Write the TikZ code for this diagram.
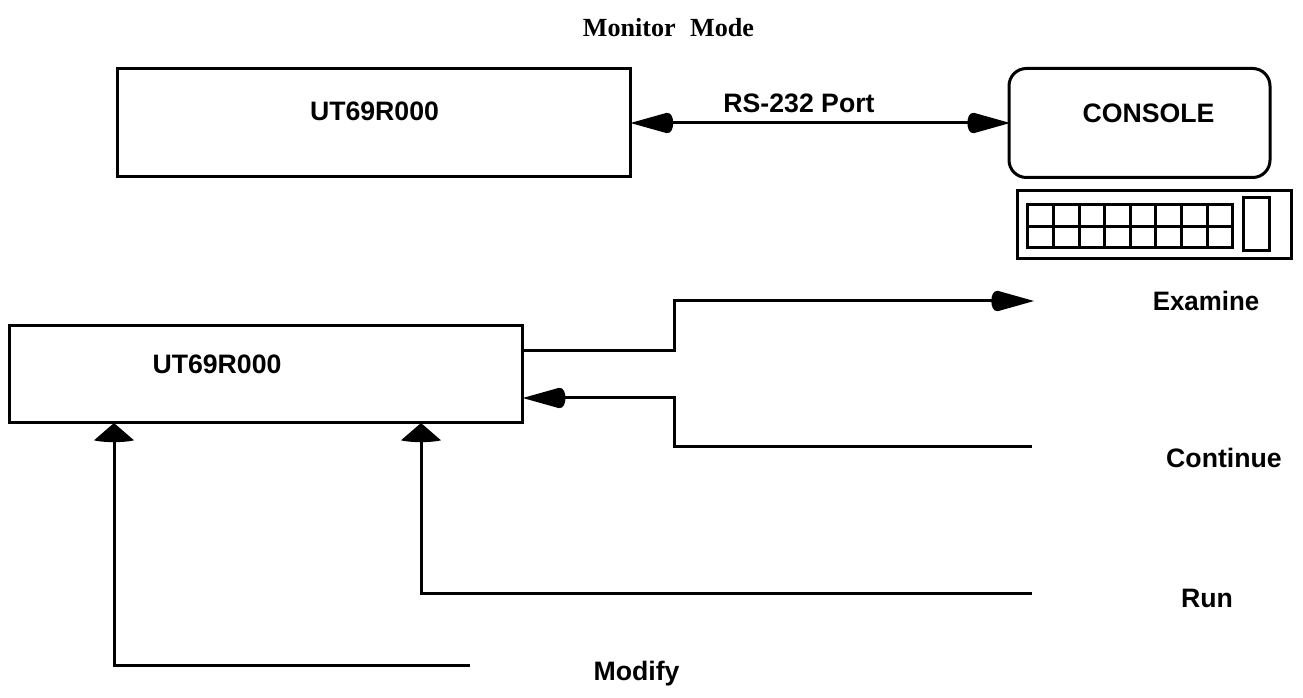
\documentclass[tikz,border=0pt]{standalone}
\usepackage{fontspec}
\setmainfont{Liberation Sans}
\newfontfamily\titlefont{Liberation Serif}
\usetikzlibrary{arrows.meta}
\pgfdeclarearrow{
  name=BlobH,
  setup code={\pgfarrowssettipend{0pt}\pgfarrowssetlineend{-28pt}\pgfarrowssetbackend{-31.5pt}\pgfarrowssetvisualbackend{-31.5pt}},
  drawing code={
    \pgfpathmoveto{\pgfpoint{0pt}{0pt}}
    \pgfpathlineto{\pgfpoint{-27pt}{7.6pt}}
    \pgfpathcurveto{\pgfpoint{-31pt}{8.2pt}}{\pgfpoint{-32pt}{3pt}}{\pgfpoint{-32pt}{0pt}}
    \pgfpathcurveto{\pgfpoint{-32pt}{-3pt}}{\pgfpoint{-31pt}{-8.2pt}}{\pgfpoint{-27pt}{-7.6pt}}
    \pgfpathclose
    \pgfusepathqfill}
}
\pgfdeclarearrow{
  name=BlobV,
  setup code={\pgfarrowssettipend{0pt}\pgfarrowssetlineend{-12pt}\pgfarrowssetbackend{-14.5pt}\pgfarrowssetvisualbackend{-14.5pt}},
  drawing code={
    \pgfpathmoveto{\pgfpoint{0pt}{0pt}}
    \pgfpathlineto{\pgfpoint{-13pt}{15pt}}
    \pgfpathcurveto{\pgfpoint{-14.8pt}{8pt}}{\pgfpoint{-14.8pt}{-8pt}}{\pgfpoint{-13pt}{-15pt}}
    \pgfpathclose
    \pgfusepathqfill}
}
\tikzset{
  px/.style={x=0.75pt,y=-0.75pt},
  box/.style={draw,line width=2.25pt,inner sep=0pt,outer sep=0pt},
  wire/.style={line width=2.25pt},
  wireH/.style={wire,-{BlobH}},
  wireV/.style={wire,-{BlobV}},
  wireHH/.style={wire,{BlobH}-{BlobH}},
  lab/.style={font=\fontsize{20}{24}\selectfont\bfseries,inner sep=0pt,anchor=base},
  ttl/.style={font=\titlefont\fontsize{19.6}{24}\selectfont\bfseries,inner sep=0pt,anchor=base}
}
\begin{document}
\begin{tikzpicture}[px]
\useasboundingbox (0,0) rectangle (1303,698);
\node[ttl] (title) at (668.5,37) {Monitor\hspace{0.3em} Mode};
% upper row
\node[box,minimum width=384.75pt,minimum height=81pt] (cpuA) at (373.5,123) {};
\node[lab] (cpuAt) at (374.5,120.5) {UT69R000};
\node[box,rounded corners=13pt,minimum width=195.75pt,minimum height=81.75pt] (console) at (1139.5,123) {};
\node[lab] (consolet) at (1148.5,122.5) {CONSOLE};
\draw[wireHH] ([xshift=0.4pt]cpuA.east) -- ([xshift=0.8pt]console.west);
\node[lab] (rs) at (799,113) {RS-232 Port};
% keyboard
\node[box,minimum width=205.5pt,minimum height=51pt] (kbd) at (1154,225) {};
\node[box,minimum width=19.5pt,minimum height=39.75pt] (knob) at (1256,224.5) {};
\draw[line width=2.25pt] (1027,205) rectangle (1232.5,248);
\draw[line width=2.25pt] (1027,226.5) -- (1233,226.5);
\foreach \gx in {1053,1079,1104,1130,1155,1181,1207}
  \draw[line width=2.25pt] (\gx,205) -- (\gx,248);
% lower row
\node[box,minimum width=384.75pt,minimum height=72.75pt] (cpuB) at (265.5,374.5) {};
\node[lab] (cpuBt) at (217,374) {UT69R000};
\coordinate (exEnd) at (1034,301);
\coordinate (ctEnd) at (1032,447);
\coordinate (rnEnd) at (1032,593);
\coordinate (mdEnd) at (470,665);
\draw[wireH] (cpuB.east |- 0,351) -- (674,351) -- (674,301) -- (exEnd);
\draw[wireH] (ctEnd) -- (674,447) -- (674,398) -- ([xshift=0.6pt]cpuB.east |- 0,398);
\draw[wireV] (rnEnd) -- (421,593) -- (421,0 |- cpuB.south);
\draw[wireV] (mdEnd) -- (114,665) -- (114,0 |- cpuB.south);
\node[lab,xscale=0.97] (ex) at (1206,311) {Examine};
\node[lab] (ct) at (1224,467) {Continue};
\node[lab] (rn) at (1207,607) {Run};
\node[lab] (md) at (636.5,680) {Modify};
\end{tikzpicture}
\end{document}
